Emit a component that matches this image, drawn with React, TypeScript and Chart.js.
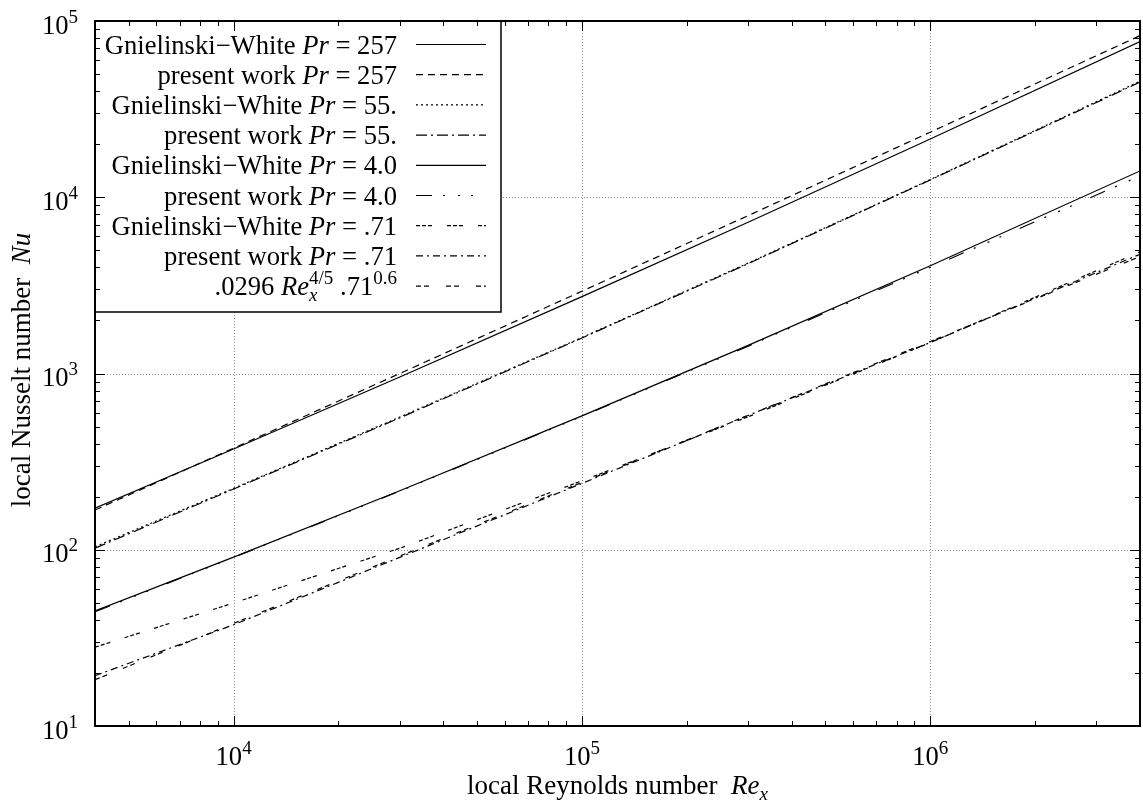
import { useEffect, useRef } from 'react';
import { Chart, registerables } from 'chart.js';

Chart.register(...registerables);

const FONT = '"Liberation Serif", "Times New Roman", serif';
const TEXT_SIZE = 26.6;
const TITLE_SIZE = 27;
const SMALL_SIZE = 19;

// Local Reynolds numbers at which the curves are sampled
const reynolds = [4000, 10000, 30000, 100000, 300000, 1000000, 4000000];

// Local Nusselt numbers
const gnielinski257 = [172, 373, 955, 2730, 7220, 21400, 76400];
const present257 = [168, 377, 1000, 2930, 7870, 23400, 82600];
const gnielinski55 = [104, 223, 566, 1600, 4230, 12600, 45500];
const present55 = [102, 221, 560, 1590, 4200, 12530, 45000];
const gnielinski4 = [45, 90.8, 216, 575, 1445, 4090, 14100];
const present4 = [44.5, 90.5, 215, 572, 1430, 4000, 13200];
const gnielinski071 = [28, 49.9, 102, 246, 568, 1497, 4900];
const present071 = [19.3, 37.5, 90.5, 238, 578, 1500, 4750];
const correlation071 = [18.3, 38.2, 92.1, 241, 580, 1520, 4610];

// Axis ranges and labelled decades
const xRange = [4000, 4000000];
const yRange = [10, 100000];
const xDecades = [10000, 100000, 1000000];
const xExponents = ['4', '5', '6'];
const yDecades = [10, 100, 1000, 10000, 100000];
const yExponents = ['1', '2', '3', '4', '5'];

type Piece = { text: string; italic?: boolean; shift?: 'sup' | 'sub'; overlapNext?: boolean };

const prLabel = (name: string, pr: string): Piece[] => [
  { text: name + ' ' },
  { text: 'Pr', italic: true },
  { text: ' = ' + pr },
];

const series: { label: Piece[]; values: number[]; dash: number[] }[] = [
  { label: prLabel('Gnielinski−White', '257'), values: gnielinski257, dash: [] },
  { label: prLabel('present work', '257'), values: present257, dash: [7, 5] },
  { label: prLabel('Gnielinski−White', '55.'), values: gnielinski55, dash: [2, 3] },
  { label: prLabel('present work', '55.'), values: present55, dash: [11, 4, 2, 4] },
  { label: prLabel('Gnielinski−White', '4.0'), values: gnielinski4, dash: [] },
  { label: prLabel('present work', '4.0'), values: present4, dash: [16, 11, 2, 13, 2, 11, 2, 20] },
  { label: prLabel('Gnielinski−White', '.71'), values: gnielinski071, dash: [4, 2, 4, 2, 4, 15] },
  { label: prLabel('present work', '.71'), values: present071, dash: [7, 4, 2, 4] },
  {
    label: [
      { text: '.0296 ' },
      { text: 'Re', italic: true },
      { text: 'x', italic: true, shift: 'sub', overlapNext: true },
      { text: '4/5', shift: 'sup' },
      { text: ' .71' },
      { text: '0.6', shift: 'sup' },
    ],
    values: correlation071,
    dash: [5, 3, 5, 17],
  },
];

const fontFor = (p: Piece, size: number) =>
  `${p.italic ? 'italic ' : ''}${p.shift ? SMALL_SIZE : size}px ${FONT}`;

function richWidth(ctx: CanvasRenderingContext2D, pieces: Piece[], size: number) {
  let w = 0;
  let pending = 0;
  for (const p of pieces) {
    ctx.font = fontFor(p, size);
    const pw = ctx.measureText(p.text).width;
    if (p.overlapNext) {
      pending = pw;
      continue;
    }
    w += Math.max(pw, pending);
    pending = 0;
  }
  return w;
}

function drawRich(
  ctx: CanvasRenderingContext2D,
  pieces: Piece[],
  x: number,
  y: number,
  align: 'left' | 'right' | 'center',
  size: number = TEXT_SIZE
) {
  const total = richWidth(ctx, pieces, size);
  let cx = align === 'left' ? x : align === 'right' ? x - total : x - total / 2;
  let pending = 0;
  ctx.textAlign = 'left';
  ctx.textBaseline = 'alphabetic';
  for (const p of pieces) {
    ctx.font = fontFor(p, size);
    const pw = ctx.measureText(p.text).width;
    const dy = p.shift === 'sup' ? -11 : p.shift === 'sub' ? 6 : 0;
    ctx.fillText(p.text, cx, y + dy);
    if (p.overlapNext) {
      pending = pw;
      continue;
    }
    cx += Math.max(pw, pending);
    pending = 0;
  }
}

function logTicks(min: number, max: number) {
  const out: { v: number; major: boolean }[] = [];
  for (let k = Math.floor(Math.log10(min)); k <= Math.ceil(Math.log10(max)); k++) {
    for (let m = 1; m <= 9; m++) {
      const v = m * Math.pow(10, k);
      if (v >= min * 0.999 && v <= max * 1.001) out.push({ v, major: m === 1 });
    }
  }
  return out;
}

const gridPlugin = {
  id: 'dottedGrid',
  beforeDatasetsDraw(chart: any) {
    const { ctx, chartArea: a, scales } = chart;
    ctx.save();
    ctx.strokeStyle = '#8a8a8a';
    ctx.lineWidth = 1;
    ctx.setLineDash([1, 2]);
    for (const v of xDecades) {
      const px = Math.round(scales.x.getPixelForValue(v)) + 0.5;
      if (px <= a.left + 1 || px >= a.right - 1) continue;
      ctx.beginPath();
      ctx.moveTo(px, a.top);
      ctx.lineTo(px, a.bottom);
      ctx.stroke();
    }
    for (const v of yDecades) {
      const py = Math.round(scales.y.getPixelForValue(v)) + 0.5;
      if (py <= a.top + 1 || py >= a.bottom - 1) continue;
      ctx.beginPath();
      ctx.moveTo(a.left, py);
      ctx.lineTo(a.right, py);
      ctx.stroke();
    }
    ctx.restore();
  },
};

const legendPlugin = {
  id: 'keyBox',
  afterDatasetsDraw(chart: any) {
    const { ctx, chartArea: a } = chart;
    const boxRight = 501;
    const boxBottom = 312;
    const textRight = 397;
    const sampleLeft = 416;
    const sampleRight = 486;
    const firstBaseline = 53.5;
    const rowStep = 30.2;
    ctx.save();
    ctx.fillStyle = '#fff';
    ctx.fillRect(a.left, a.top, boxRight - a.left, boxBottom - a.top);
    ctx.strokeStyle = '#000';
    ctx.lineWidth = 1.5;
    ctx.strokeRect(a.left, a.top, boxRight - a.left, boxBottom - a.top);
    ctx.fillStyle = '#000';
    series.forEach((s, i) => {
      const base = firstBaseline + i * rowStep;
      drawRich(ctx, s.label, textRight, base, 'right');
      ctx.save();
      ctx.lineWidth = 1.2;
      ctx.setLineDash(s.dash);
      ctx.beginPath();
      ctx.moveTo(sampleLeft, base - 9);
      ctx.lineTo(sampleRight, base - 9);
      ctx.stroke();
      ctx.restore();
    });
    ctx.restore();
  },
};

const framePlugin = {
  id: 'frameAndTicks',
  afterDraw(chart: any) {
    const { ctx, chartArea: a, scales } = chart;
    ctx.save();
    ctx.strokeStyle = '#000';
    ctx.lineWidth = 1;
    ctx.setLineDash([]);
    for (const t of logTicks(xRange[0], xRange[1])) {
      const px = Math.round(scales.x.getPixelForValue(t.v)) + 0.5;
      const len = t.major ? 10 : 5;
      ctx.beginPath();
      ctx.moveTo(px, a.bottom);
      ctx.lineTo(px, a.bottom - len);
      ctx.moveTo(px, a.top);
      ctx.lineTo(px, a.top + len);
      ctx.stroke();
    }
    for (const t of logTicks(yRange[0], yRange[1])) {
      const py = Math.round(scales.y.getPixelForValue(t.v)) + 0.5;
      const len = t.major ? 10 : 5;
      ctx.beginPath();
      ctx.moveTo(a.left, py);
      ctx.lineTo(a.left + len, py);
      ctx.moveTo(a.right, py);
      ctx.lineTo(a.right - len, py);
      ctx.stroke();
    }
    ctx.lineWidth = 2;
    ctx.strokeRect(a.left, a.top, a.right - a.left, a.bottom - a.top);

    ctx.fillStyle = '#000';
    xDecades.forEach((v, i) => {
      const px = scales.x.getPixelForValue(v);
      drawRich(ctx, [{ text: '10' }, { text: xExponents[i], shift: 'sup' }], px, 765, 'center');
    });
    yDecades.forEach((v, i) => {
      const py = scales.y.getPixelForValue(v);
      drawRich(ctx, [{ text: '10' }, { text: yExponents[i], shift: 'sup' }], 78, py + 12.5, 'right');
    });

    drawRich(
      ctx,
      [
        { text: 'local Reynolds number  ' },
        { text: 'Re', italic: true },
        { text: 'x', italic: true, shift: 'sub' },
      ],
      (a.left + a.right) / 2,
      794,
      'center',
      TITLE_SIZE
    );

    ctx.save();
    ctx.translate(30, 370);
    ctx.rotate(-Math.PI / 2);
    drawRich(ctx, [{ text: 'local Nusselt number  ' }, { text: 'Nu', italic: true }], 0, 0, 'center', TITLE_SIZE);
    ctx.restore();
    ctx.restore();
  },
};

export default function App() {
  const ref = useRef<HTMLCanvasElement>(null);
  useEffect(() => {
    document.body.style.margin = '0';
    const canvas = ref.current;
    if (!canvas) return;
    const chart = new Chart(canvas, {
      type: 'line',
      data: {
        datasets: series.map((s) => ({
          label: s.label.map((p) => p.text).join(''),
          data: reynolds.map((x, i) => ({ x, y: s.values[i] })),
          borderColor: '#000',
          borderWidth: 1.2,
          borderDash: s.dash,
          pointRadius: 0,
          fill: false,
          tension: 0,
        })),
      },
      options: {
        responsive: false,
        animation: false,
        devicePixelRatio: 1,
        events: [],
        layout: { padding: { left: 95, top: 21, right: 3, bottom: 85 } },
        plugins: { legend: { display: false }, tooltip: { enabled: false } },
        scales: {
          x: { type: 'logarithmic', min: xRange[0], max: xRange[1], display: false },
          y: { type: 'logarithmic', min: yRange[0], max: yRange[1], display: false },
        },
      },
      plugins: [gridPlugin, legendPlugin, framePlugin],
    });
    return () => chart.destroy();
  }, []);
  return <canvas ref={ref} width={1143} height={811} style={{ display: 'block' }} />;
}
